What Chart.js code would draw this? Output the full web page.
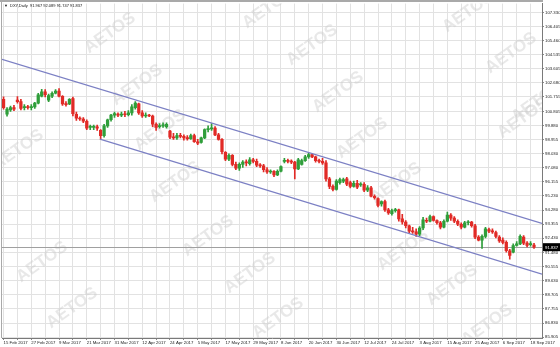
<!DOCTYPE html>
<html>
<head>
<meta charset="utf-8">
<script src="https://cdn.jsdelivr.net/npm/chart.js@4.4.0/dist/chart.umd.min.js"></script>
<style>
  html, body { margin: 0; padding: 0; background: #fff; }
  #wrap { width: 560px; height: 347px; }
</style>
</head>
<body>
<div id="wrap"><canvas id="chart" width="560" height="347"></canvas></div>
<script>
// DXY daily candles, 15 Feb - 19 Sep 2017.
const dates = [
  '15 Feb 2017','16 Feb 2017','17 Feb 2017','20 Feb 2017','21 Feb 2017','22 Feb 2017','23 Feb 2017','24 Feb 2017','27 Feb 2017','28 Feb 2017',
  '1 Mar 2017','2 Mar 2017','3 Mar 2017','6 Mar 2017','7 Mar 2017','8 Mar 2017','9 Mar 2017','10 Mar 2017','13 Mar 2017','14 Mar 2017',
  '15 Mar 2017','16 Mar 2017','17 Mar 2017','20 Mar 2017','21 Mar 2017','22 Mar 2017','23 Mar 2017','24 Mar 2017','27 Mar 2017','28 Mar 2017',
  '29 Mar 2017','30 Mar 2017','31 Mar 2017','3 Apr 2017','4 Apr 2017','5 Apr 2017','6 Apr 2017','7 Apr 2017','10 Apr 2017','11 Apr 2017',
  '12 Apr 2017','13 Apr 2017','14 Apr 2017','17 Apr 2017','18 Apr 2017','19 Apr 2017','20 Apr 2017','21 Apr 2017','24 Apr 2017','25 Apr 2017',
  '26 Apr 2017','27 Apr 2017','28 Apr 2017','2 May 2017','3 May 2017','4 May 2017','5 May 2017','8 May 2017','9 May 2017','10 May 2017',
  '11 May 2017','12 May 2017','15 May 2017','16 May 2017','17 May 2017','18 May 2017','19 May 2017','22 May 2017','23 May 2017','24 May 2017',
  '25 May 2017','26 May 2017','29 May 2017','30 May 2017','31 May 2017','1 Jun 2017','2 Jun 2017','5 Jun 2017','6 Jun 2017','7 Jun 2017',
  '8 Jun 2017','9 Jun 2017','12 Jun 2017','13 Jun 2017','14 Jun 2017','15 Jun 2017','16 Jun 2017','19 Jun 2017','20 Jun 2017','21 Jun 2017',
  '22 Jun 2017','23 Jun 2017','26 Jun 2017','27 Jun 2017','28 Jun 2017','29 Jun 2017','30 Jun 2017','3 Jul 2017','4 Jul 2017','5 Jul 2017',
  '6 Jul 2017','7 Jul 2017','10 Jul 2017','11 Jul 2017','12 Jul 2017','13 Jul 2017','14 Jul 2017','17 Jul 2017','18 Jul 2017','19 Jul 2017',
  '20 Jul 2017','21 Jul 2017','24 Jul 2017','25 Jul 2017','26 Jul 2017','27 Jul 2017','28 Jul 2017','31 Jul 2017','1 Aug 2017','2 Aug 2017',
  '3 Aug 2017','4 Aug 2017','7 Aug 2017','8 Aug 2017','9 Aug 2017','10 Aug 2017','11 Aug 2017','14 Aug 2017','15 Aug 2017','16 Aug 2017',
  '17 Aug 2017','18 Aug 2017','21 Aug 2017','22 Aug 2017','23 Aug 2017','24 Aug 2017','25 Aug 2017','28 Aug 2017','29 Aug 2017','30 Aug 2017',
  '31 Aug 2017','1 Sep 2017','4 Sep 2017','5 Sep 2017','6 Sep 2017','7 Sep 2017','8 Sep 2017','11 Sep 2017','12 Sep 2017','13 Sep 2017',
  '14 Sep 2017','15 Sep 2017','18 Sep 2017','19 Sep 2017'
];

const opens = [
  101.60,100.62,100.90,101.05,101.55,101.45,101.05,101.10,101.05,101.10,
  101.35,101.80,102.10,101.55,101.80,102.00,102.15,101.80,101.30,101.30,
  101.65,100.60,100.35,100.30,100.15,99.75,99.75,99.78,99.55,99.20,
  99.85,100.25,100.55,100.60,100.55,100.60,100.58,100.70,101.05,101.30,
  100.70,100.50,100.55,100.50,99.95,99.80,99.85,99.80,99.50,99.10,
  99.05,99.20,99.15,99.05,99.00,99.20,98.80,98.75,99.05,99.60,
  99.65,99.70,99.25,98.95,98.10,97.65,97.90,97.30,97.05,97.30,
  97.45,97.35,97.60,97.50,97.25,97.20,96.95,96.80,96.85,96.60,
  96.85,97.50,97.55,97.50,97.45,97.00,97.30,97.55,97.80,97.95,
  97.80,97.55,97.50,97.40,96.35,95.85,95.65,96.10,96.20,96.35,
  96.10,95.85,96.05,95.95,95.98,95.60,95.75,95.20,95.05,94.70,
  94.85,94.30,94.05,94.25,94.30,93.70,93.50,93.25,92.90,92.85,
  92.70,93.10,93.60,93.55,93.85,93.60,93.45,93.15,93.55,93.95,
  93.75,93.55,93.35,93.15,93.45,93.50,93.25,92.50,92.30,92.55,
  93.00,92.90,92.80,92.50,92.30,92.15,91.60,91.50,91.95,92.05,
  92.50,92.10,92.00,91.967
];
const highs = [
  101.77,101.05,101.15,101.20,101.78,101.60,101.25,101.20,101.25,101.40,
  102.00,102.26,102.25,101.95,102.10,102.25,102.30,101.85,101.45,101.65,
  101.75,100.75,100.45,100.40,100.25,99.90,99.90,99.90,99.60,99.95,
  100.30,100.60,100.75,100.70,100.75,100.80,100.85,101.25,101.45,101.35,
  100.85,100.70,100.60,100.55,100.05,100.00,100.05,100.05,99.55,99.35,
  99.35,99.35,99.25,99.20,99.30,99.30,98.95,99.10,99.65,99.85,
  100.00,99.80,99.35,99.00,98.15,98.00,97.95,97.45,97.40,97.55,
  97.60,97.75,97.70,97.65,97.35,97.30,97.10,96.95,96.90,96.95,
  97.20,97.70,97.65,97.60,97.50,97.70,97.65,97.90,98.05,98.00,
  97.85,97.65,97.70,97.55,96.45,95.95,96.30,96.40,96.40,96.45,
  96.20,96.20,96.25,96.10,96.10,95.90,95.85,95.30,95.10,94.90,
  94.95,94.40,94.35,94.40,94.35,94.00,93.60,93.30,93.15,93.05,
  93.20,93.80,93.75,93.95,93.90,93.65,93.55,93.65,94.15,94.05,
  93.85,93.65,93.45,93.55,93.60,93.55,93.35,92.60,92.65,93.15,
  93.10,93.05,92.90,92.60,92.45,92.25,91.70,92.05,92.20,92.65,
  92.60,92.20,92.20,92.089
];
const lows = [
  100.95,100.48,100.80,100.85,101.35,100.90,100.90,100.95,100.90,101.00,
  101.30,101.75,101.75,101.45,101.70,101.95,101.75,101.20,101.15,101.25,
  100.50,100.20,100.20,100.05,99.60,99.60,99.60,99.55,98.95,99.10,
  99.75,100.15,100.40,100.45,100.45,100.45,100.50,100.55,100.95,100.60,
  100.40,100.40,100.45,99.80,99.55,99.70,99.75,99.70,99.00,98.95,
  98.95,99.05,98.90,98.90,98.95,98.75,98.60,98.70,99.00,99.45,
  99.55,99.20,98.90,98.00,97.55,97.55,97.20,96.95,96.90,97.10,
  97.20,97.25,97.40,97.15,97.10,96.80,96.70,96.70,96.50,96.55,
  96.80,97.40,97.40,97.35,96.35,96.95,97.25,97.50,97.70,97.75,
  97.45,97.40,97.30,96.20,95.70,95.55,95.60,96.00,96.10,95.90,
  95.75,95.80,95.70,95.85,95.50,95.50,95.15,95.00,94.50,94.55,
  94.20,94.00,93.95,94.15,93.55,93.35,93.10,92.80,92.75,92.55,
  92.60,93.00,93.45,93.50,93.55,93.35,93.05,93.10,93.50,93.60,
  93.45,93.25,93.05,93.10,93.30,93.15,92.40,92.25,91.75,92.45,
  92.80,92.75,92.45,92.15,92.05,91.50,91.05,91.45,91.90,92.00,
  92.00,91.85,91.90,91.747
];
const closes = [
  101.05,100.95,101.05,100.95,101.45,101.00,101.10,101.05,101.10,101.35,
  101.90,102.10,101.90,101.85,102.00,102.15,101.80,101.30,101.25,101.60,
  100.65,100.35,100.30,100.15,99.70,99.75,99.78,99.70,99.20,99.85,
  100.25,100.55,100.65,100.55,100.60,100.58,100.70,101.10,101.35,100.70,
  100.50,100.55,100.50,99.95,99.75,99.85,99.90,99.95,99.10,99.05,
  99.20,99.15,99.05,99.00,99.20,98.80,98.70,99.05,99.60,99.65,
  99.70,99.25,98.95,98.15,97.65,97.90,97.30,97.05,97.30,97.45,
  97.40,97.60,97.50,97.25,97.20,96.95,96.80,96.85,96.60,96.85,
  97.15,97.55,97.50,97.45,97.00,97.60,97.55,97.80,97.95,97.80,
  97.55,97.50,97.40,96.35,95.85,95.65,96.20,96.30,96.30,96.00,
  95.85,96.05,95.80,95.98,95.60,95.75,95.20,95.10,94.60,94.85,
  94.30,94.10,94.25,94.30,93.70,93.50,93.25,92.90,92.85,92.70,
  93.10,93.65,93.55,93.85,93.60,93.45,93.15,93.55,93.95,93.75,
  93.55,93.35,93.15,93.45,93.50,93.25,92.50,92.30,92.55,93.05,
  92.90,92.85,92.55,92.25,92.15,91.60,91.30,91.95,92.05,92.55,
  92.10,91.95,92.05,91.837
];

// hand-drawn channel: anchors as [bar index, price]
const upperChannel = [[-0.45, 104.24], [155.3, 93.40]];
const lowerChannel = [[27.8, 98.97], [155.3, 90.05]];

const priceTicks = [
  107.330, 106.405, 105.460, 104.535, 103.605, 102.680, 101.755, 100.805,
  99.880, 98.955, 98.030, 97.080, 96.155, 95.230, 94.280, 93.355,
  92.430, 91.480, 90.555, 89.630, 88.705, 87.755, 86.830, 85.905
];

// watermark spots (pixels), decoration only
const watermarkSpots = [
  [110, 33], [137, 85], [268, 8], [312, 45], [338, 92], [468, 12], [511, 53], [537, 102],
  [18, 150], [160, 130], [175, 182], [362, 138], [396, 183], [523, 118],
  [42, 262], [72, 308], [208, 236], [250, 273], [278, 318], [403, 250], [452, 285], [487, 325]
];

const BULL = '#2f9e3a';
const BEAR = '#e12a26';
const GRID = '#e2e2e2';
const FONT = 'Liberation Sans';
const last = closes.length - 1;

const colors = closes.map((c, i) => (c >= opens[i] ? BULL : BEAR));
const idx = closes.map((_, i) => i);
const xTicks = idx.filter(i => i % 4 === 0);

const overlay = {
  id: 'overlay',
  beforeDraw(chart) {
    const { ctx } = chart;
    ctx.save();
    ctx.fillStyle = '#fff';
    ctx.fillRect(0, 0, chart.width, chart.height);
    ctx.restore();
  },
  beforeDatasetsDraw(chart) {
    const { ctx, chartArea: a, scales } = chart;
    ctx.save();
    ctx.beginPath();
    ctx.rect(a.left, a.top, a.right - a.left, a.bottom - a.top);
    ctx.clip();
    ctx.font = `bold 17px ${FONT}`;
    ctx.textAlign = 'center';
    ctx.textBaseline = 'middle';
    ctx.fillStyle = 'rgba(205,205,205,0.45)';
    watermarkSpots.forEach(([x, y]) => {
      ctx.save();
      ctx.translate(x, y);
      ctx.rotate(-0.62);
      ctx.fillText('AETOS', 0, 0);
      ctx.restore();
    });
    // bid line
    const py = Math.round(scales.y.getPixelForValue(closes[last])) + 0.5;
    ctx.strokeStyle = '#a0a0a0';
    ctx.lineWidth = 1;
    ctx.beginPath();
    ctx.moveTo(a.left, py);
    ctx.lineTo(a.right, py);
    ctx.stroke();
    ctx.restore();
  },
  afterDraw(chart) {
    const { ctx, chartArea: a, scales } = chart;
    ctx.save();
    // frame
    ctx.fillStyle = '#a9a9a9';
    ctx.fillRect(0, 0, a.right + 1, 2);
    ctx.fillRect(1, 0, 1, a.bottom);
    // header
    ctx.fillStyle = '#111';
    ctx.font = `4px ${FONT}`;
    ctx.textBaseline = 'middle';
    ctx.textAlign = 'left';
    ctx.fillText('\u25BC', 4, 6);
    ctx.fillText(`DXY,Daily  ${opens[last].toFixed(3)} ${highs[last].toFixed(3)} ${lows[last].toFixed(3)} ${closes[last].toFixed(3)}`, 10, 6);
    // current price box
    const py = scales.y.getPixelForValue(closes[last]);
    ctx.fillStyle = '#000';
    ctx.fillRect(a.right + 1, py - 4, chart.width - a.right - 1, 8);
    ctx.fillStyle = '#fff';
    ctx.font = `4.3px ${FONT}`;
    ctx.fillText(closes[last].toFixed(3), a.right + 3, py + 0.3);
    ctx.restore();
  }
};

new Chart(document.getElementById('chart'), {
  type: 'bar',
  data: {
    datasets: [
      {
        type: 'line',
        data: upperChannel.map(([x, y]) => ({ x, y })),
        borderColor: '#7c80c4', borderWidth: 1.3, pointRadius: 0, order: 0
      },
      {
        type: 'line',
        data: lowerChannel.map(([x, y]) => ({ x, y })),
        borderColor: '#7c80c4', borderWidth: 1.3, pointRadius: 0, order: 0
      },
      {
        data: idx.map(i => ({ x: i, y: [opens[i], closes[i]] })),
        backgroundColor: colors, barThickness: 2.6, minBarLength: 1,
        grouped: false, borderWidth: 0, order: 1
      },
      {
        data: idx.map(i => ({ x: i, y: [lows[i], highs[i]] })),
        backgroundColor: colors, barThickness: 1, grouped: false,
        borderWidth: 0, order: 2
      }
    ]
  },
  options: {
    responsive: false,
    animation: false,
    devicePixelRatio: 1,
    layout: { padding: { top: 2, left: 2, right: 0, bottom: 0 } },
    plugins: { legend: { display: false }, tooltip: { enabled: false } },
    scales: {
      x: {
        type: 'linear', min: -0.45, max: 155.3, offset: false,
        afterBuildTicks: s => { s.ticks = xTicks.map(v => ({ value: v })); },
        afterFit: s => { s.height = 9; },
        grid: { color: GRID, lineWidth: 1, tickLength: 2, offset: false, tickColor: '#888' },
        border: { color: '#7a7a7a' },
        ticks: {
          autoSkip: false, maxRotation: 0, minRotation: 0, align: 'start', padding: 0,
          color: '#222', font: { family: FONT, size: 4.3 },
          callback: v => (v % 8 === 0 ? dates[v] : '')
        }
      },
      y: {
        position: 'right', min: 85.84, max: 107.92,
        afterBuildTicks: s => { s.ticks = priceTicks.map(v => ({ value: v })); },
        afterFit: s => { s.width = 18; },
        grid: { color: GRID, lineWidth: 1, tickLength: 2, tickColor: '#888' },
        border: { color: '#7a7a7a' },
        ticks: {
          padding: 1, color: '#222', font: { family: FONT, size: 4.3 },
          callback: v => Number(v).toFixed(3)
        }
      }
    }
  },
  plugins: [overlay]
});
</script>
</body>
</html>
